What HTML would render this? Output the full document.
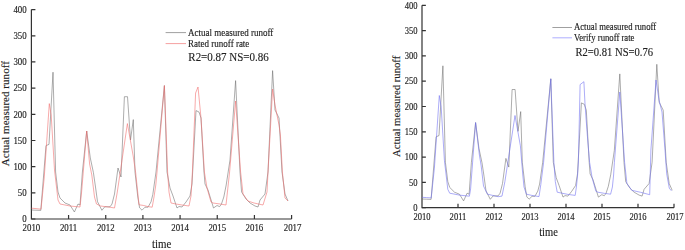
<!DOCTYPE html>
<html><head><meta charset="utf-8"><style>
html,body{margin:0;padding:0;background:#fff;width:685px;height:250px;overflow:hidden}
svg{display:block}
.bl{filter:blur(0.35px)}
.rt{stroke-width:0.12px;fill:#000;stroke:#000}
.t{font-family:"Liberation Serif",serif;fill:#1e1e1e;stroke:#1e1e1e;stroke-width:0.14px}
</style></head><body>
<svg width="685" height="250" viewBox="0 0 685 250">
<rect width="685" height="250" fill="#fff"/>
<g class="bl">
<path d="M31.40 9.60 V219.00 H291.59" fill="none" stroke="#333" stroke-width="1.20"/>
<path d="M31.40 219.00H35.40M31.40 192.82H35.40M31.40 166.65H35.40M31.40 140.48H35.40M31.40 114.30H35.40M31.40 88.12H35.40M31.40 61.95H35.40M31.40 35.78H35.40M31.40 9.60H35.40M68.57 219.00V215.00M105.74 219.00V215.00M142.91 219.00V215.00M180.08 219.00V215.00M217.25 219.00V215.00M254.42 219.00V215.00M291.59 219.00V215.00" stroke="#333" stroke-width="1.2" fill="none"/>
<text transform="translate(26.70,222.31) scale(1,1.100)" font-size="8.85" text-anchor="end" class="t">0</text>
<text transform="translate(26.70,196.13) scale(1,1.100)" font-size="8.85" text-anchor="end" class="t">50</text>
<text transform="translate(26.70,169.96) scale(1,1.100)" font-size="8.85" text-anchor="end" class="t">100</text>
<text transform="translate(26.70,143.78) scale(1,1.100)" font-size="8.85" text-anchor="end" class="t">150</text>
<text transform="translate(26.70,117.61) scale(1,1.100)" font-size="8.85" text-anchor="end" class="t">200</text>
<text transform="translate(26.70,91.43) scale(1,1.100)" font-size="8.85" text-anchor="end" class="t">250</text>
<text transform="translate(26.70,65.26) scale(1,1.100)" font-size="8.85" text-anchor="end" class="t">300</text>
<text transform="translate(26.70,39.08) scale(1,1.100)" font-size="8.85" text-anchor="end" class="t">350</text>
<text transform="translate(26.70,12.91) scale(1,1.100)" font-size="8.85" text-anchor="end" class="t">400</text>
<text transform="translate(31.40,231.30) scale(1,1.100)" font-size="8.85" text-anchor="middle" class="t">2010</text>
<text transform="translate(68.57,231.30) scale(1,1.100)" font-size="8.85" text-anchor="middle" class="t">2011</text>
<text transform="translate(105.74,231.30) scale(1,1.100)" font-size="8.85" text-anchor="middle" class="t">2012</text>
<text transform="translate(142.91,231.30) scale(1,1.100)" font-size="8.85" text-anchor="middle" class="t">2013</text>
<text transform="translate(180.08,231.30) scale(1,1.100)" font-size="8.85" text-anchor="middle" class="t">2014</text>
<text transform="translate(217.25,231.30) scale(1,1.100)" font-size="8.85" text-anchor="middle" class="t">2015</text>
<text transform="translate(254.42,231.30) scale(1,1.100)" font-size="8.85" text-anchor="middle" class="t">2016</text>
<text transform="translate(292.59,231.30) scale(1,1.100)" font-size="8.85" text-anchor="middle" class="t">2017</text>
</g>
<polyline points="31.5,210.0 36.0,210.2 40.8,210.4 46.0,145.6 49.0,144.4 53.0,72.2 55.6,172.0 58.0,192.0 60.0,198.0 65.0,203.0 70.0,205.0 74.4,212.0 78.0,204.0 80.0,205.0 82.4,172.0 86.7,131.0 90.3,158.0 93.4,172.5 95.5,187.0 97.5,201.7 101.9,210.3 104.8,206.8 110.0,206.8 112.0,204.0 114.5,194.0 118.0,168.0 121.0,177.0 124.4,96.7 127.5,96.7 130.5,140.0 133.3,119.6 135.0,172.0 137.8,197.0 139.6,207.8 142.0,210.2 145.0,207.2 148.0,207.2 151.0,201.8 152.8,194.6 156.0,172.0 164.4,85.6 167.0,172.0 170.0,188.0 173.0,196.0 177.0,208.0 179.0,206.5 182.0,207.0 186.0,202.0 190.0,196.0 192.0,184.0 196.0,110.6 199.0,112.0 201.0,118.0 204.0,172.0 205.0,184.0 208.0,190.0 213.5,208.0 217.0,205.5 219.6,206.6 221.4,204.2 223.8,197.0 226.2,185.0 230.0,160.0 235.6,80.6 240.0,172.0 241.6,192.0 246.0,199.0 250.0,203.0 255.0,206.0 258.0,207.0 260.0,200.0 265.0,194.0 268.0,172.0 272.6,70.6 275.0,110.0 279.0,118.0 282.0,172.0 285.0,194.0 288.0,201.0" fill="none" stroke="#686868" stroke-width="0.55" stroke-linejoin="round"/>
<polyline points="31.5,208.2 36.0,208.6 41.0,209.2 44.2,178.0 49.3,103.6 51.2,115.0 54.5,170.0 58.0,200.0 60.0,204.0 70.0,206.0 80.0,207.0 81.6,192.0 86.7,131.0 89.6,164.0 91.8,175.0 94.5,197.0 96.5,204.0 100.6,206.0 110.0,207.2 114.5,208.0 117.3,192.0 127.4,123.6 133.0,155.0 135.6,172.0 139.0,204.8 143.2,205.4 148.0,206.6 152.2,207.2 154.0,197.0 155.8,185.0 157.0,172.0 164.4,85.6 167.6,172.0 169.0,192.0 171.0,203.0 176.0,204.0 182.0,205.0 189.0,206.0 191.0,196.0 192.4,172.0 195.6,93.0 198.0,87.0 201.0,118.0 204.4,172.0 207.0,188.0 211.0,202.0 213.0,203.0 220.0,204.0 226.0,205.0 229.6,172.0 235.6,101.0 240.6,172.0 243.0,194.0 248.0,201.0 254.0,203.0 263.0,205.0 267.0,192.0 268.0,172.0 272.6,89.0 275.0,105.0 277.0,115.0 279.0,125.0 280.4,135.0 282.4,172.0 285.0,198.0 288.0,201.0" fill="none" stroke="#f27070" stroke-width="0.60" stroke-linejoin="round"/>
<g class="bl">
<path d="M422.00 5.30 V207.70 H674.00" fill="none" stroke="#333" stroke-width="1.20"/>
<path d="M422.00 207.70H425.87M422.00 182.40H425.87M422.00 157.10H425.87M422.00 131.80H425.87M422.00 106.50H425.87M422.00 81.20H425.87M422.00 55.90H425.87M422.00 30.60H425.87M422.00 5.30H425.87M458.00 207.70V203.83M494.00 207.70V203.83M530.00 207.70V203.83M566.00 207.70V203.83M602.00 207.70V203.83M638.00 207.70V203.83M674.00 207.70V203.83" stroke="#333" stroke-width="1.2" fill="none"/>
<text transform="translate(417.46,210.90) scale(1,1.100)" font-size="8.56" text-anchor="end" class="t">0</text>
<text transform="translate(417.46,185.60) scale(1,1.100)" font-size="8.56" text-anchor="end" class="t">50</text>
<text transform="translate(417.46,160.30) scale(1,1.100)" font-size="8.56" text-anchor="end" class="t">100</text>
<text transform="translate(417.46,135.00) scale(1,1.100)" font-size="8.56" text-anchor="end" class="t">150</text>
<text transform="translate(417.46,109.70) scale(1,1.100)" font-size="8.56" text-anchor="end" class="t">200</text>
<text transform="translate(417.46,84.40) scale(1,1.100)" font-size="8.56" text-anchor="end" class="t">250</text>
<text transform="translate(417.46,59.10) scale(1,1.100)" font-size="8.56" text-anchor="end" class="t">300</text>
<text transform="translate(417.46,33.80) scale(1,1.100)" font-size="8.56" text-anchor="end" class="t">350</text>
<text transform="translate(417.46,8.50) scale(1,1.100)" font-size="8.56" text-anchor="end" class="t">400</text>
<text transform="translate(422.00,220.30) scale(1,1.100)" font-size="8.56" text-anchor="middle" class="t">2010</text>
<text transform="translate(458.00,220.30) scale(1,1.100)" font-size="8.56" text-anchor="middle" class="t">2011</text>
<text transform="translate(494.00,220.30) scale(1,1.100)" font-size="8.56" text-anchor="middle" class="t">2012</text>
<text transform="translate(530.00,220.30) scale(1,1.100)" font-size="8.56" text-anchor="middle" class="t">2013</text>
<text transform="translate(566.00,220.30) scale(1,1.100)" font-size="8.56" text-anchor="middle" class="t">2014</text>
<text transform="translate(602.00,220.30) scale(1,1.100)" font-size="8.56" text-anchor="middle" class="t">2015</text>
<text transform="translate(638.00,220.30) scale(1,1.100)" font-size="8.56" text-anchor="middle" class="t">2016</text>
<text transform="translate(675.00,220.30) scale(1,1.100)" font-size="8.56" text-anchor="middle" class="t">2017</text>
</g>
<polyline points="422.1,199.0 426.5,199.2 431.1,199.4 436.1,136.8 439.0,135.6 442.9,65.8 445.4,162.3 447.8,181.6 449.7,187.4 454.5,192.2 459.4,194.2 463.6,200.9 467.1,193.2 469.1,194.2 471.4,162.3 475.6,122.6 479.0,148.7 482.0,162.8 484.1,176.8 486.0,191.0 490.3,199.3 493.1,195.9 498.1,195.9 500.1,193.2 502.5,183.5 505.9,158.4 508.8,167.1 512.1,89.5 515.1,89.5 518.0,131.3 520.7,111.6 522.3,162.3 525.1,186.4 526.8,196.9 529.1,199.2 532.0,196.3 534.9,196.3 537.8,191.1 539.6,184.1 542.7,162.3 550.8,78.8 553.3,162.3 556.2,177.7 559.1,185.5 563.0,197.1 565.0,195.6 567.9,196.1 571.7,191.3 575.6,185.5 577.5,173.9 581.4,102.9 584.3,104.3 586.3,110.1 589.2,162.3 590.1,173.9 593.0,179.7 598.4,197.1 601.8,194.7 604.3,195.7 606.0,193.4 608.3,186.4 610.7,174.8 614.3,150.7 619.8,73.9 624.0,162.3 625.7,181.6 630.1,188.4 634.1,192.2 639.1,195.1 642.1,196.1 644.1,189.3 649.1,183.5 652.1,162.3 656.8,64.3 659.2,102.3 663.2,110.1 666.2,162.3 669.2,183.5 672.2,190.3" fill="none" stroke="#686868" stroke-width="0.55" stroke-linejoin="round"/>
<polyline points="422.1,197.3 426.5,197.6 431.2,197.9 434.4,168.1 439.3,95.5 441.2,107.2 444.4,160.3 447.8,189.3 449.7,193.2 459.4,195.1 469.4,196.2 470.6,189.0 475.6,122.6 479.4,155.0 481.2,166.0 483.5,186.0 487.5,194.2 498.1,196.7 502.0,196.1 504.9,181.6 515.0,115.5 520.4,145.8 522.8,175.0 524.0,187.0 526.4,194.2 531.8,195.4 539.0,196.6 540.8,184.6 542.0,175.0 543.6,162.3 550.8,78.8 553.9,162.3 555.3,181.6 557.2,192.2 562.0,193.2 567.9,194.4 575.2,195.4 576.4,187.0 577.6,175.0 578.4,162.0 580.1,84.6 583.9,81.7 585.0,104.0 587.3,135.0 589.6,162.3 592.1,177.7 595.9,191.3 597.9,192.2 604.7,193.4 610.6,194.2 612.4,187.0 613.6,175.0 614.4,162.3 619.8,92.0 624.6,162.3 626.9,183.5 631.8,190.3 640.6,192.3 649.7,194.7 650.9,150.0 656.0,80.0 659.0,100.0 662.0,112.0 665.0,150.0 666.7,173.8 669.3,188.2 671.4,190.8" fill="none" stroke="#7474f2" stroke-width="0.60" stroke-linejoin="round"/>
<g class="bl">
<!-- left legend -->
<path d="M165.6 32.6H186" stroke="#a0a0a0" stroke-width="1"/>
<path d="M165.6 43.6H186" stroke="#f5a0a0" stroke-width="1"/>
<text transform="translate(188.1,35.9) scale(1,1.1)" font-size="9" class="t">Actual measured runoff</text>
<text transform="translate(188.1,46.9) scale(1,1.1)" font-size="9" class="t">Rated runoff rate</text>
<text transform="translate(188.3,61.2) scale(1,1.1)" font-size="11" class="t">R2=0.87 NS=0.86</text>
<text transform="translate(161.6,247.6) scale(1,1.1)" font-size="10.9" text-anchor="middle" class="t">time</text>
<!-- right legend -->
<path d="M552.4 27.5H572" stroke="#a0a0a0" stroke-width="1"/>
<path d="M552.4 37.8H572" stroke="#b4b4ff" stroke-width="1.1"/>
<text transform="translate(573.9,30.4) scale(1,1.1)" font-size="8.7" class="t">Actual measured runoff</text>
<text transform="translate(573.9,41.0) scale(1,1.1)" font-size="8.7" class="t">Verify runoff rate</text>
<text transform="translate(575.5,56.0) scale(1,1.1)" font-size="10.6" class="t">R2=0.81 NS=0.76</text>
<text transform="translate(548.5,236.2) scale(1,1.1)" font-size="10.5" text-anchor="middle" class="t">time</text>
</g>
<text transform="translate(8.8,113.7) rotate(-90)" font-size="11.1" text-anchor="middle" class="t rt">Actual measured runoff</text>
<text transform="translate(400.4,106.4) rotate(-90)" font-size="10.7" text-anchor="middle" class="t rt">Actual measured runoff</text>
</svg>
</body></html>
